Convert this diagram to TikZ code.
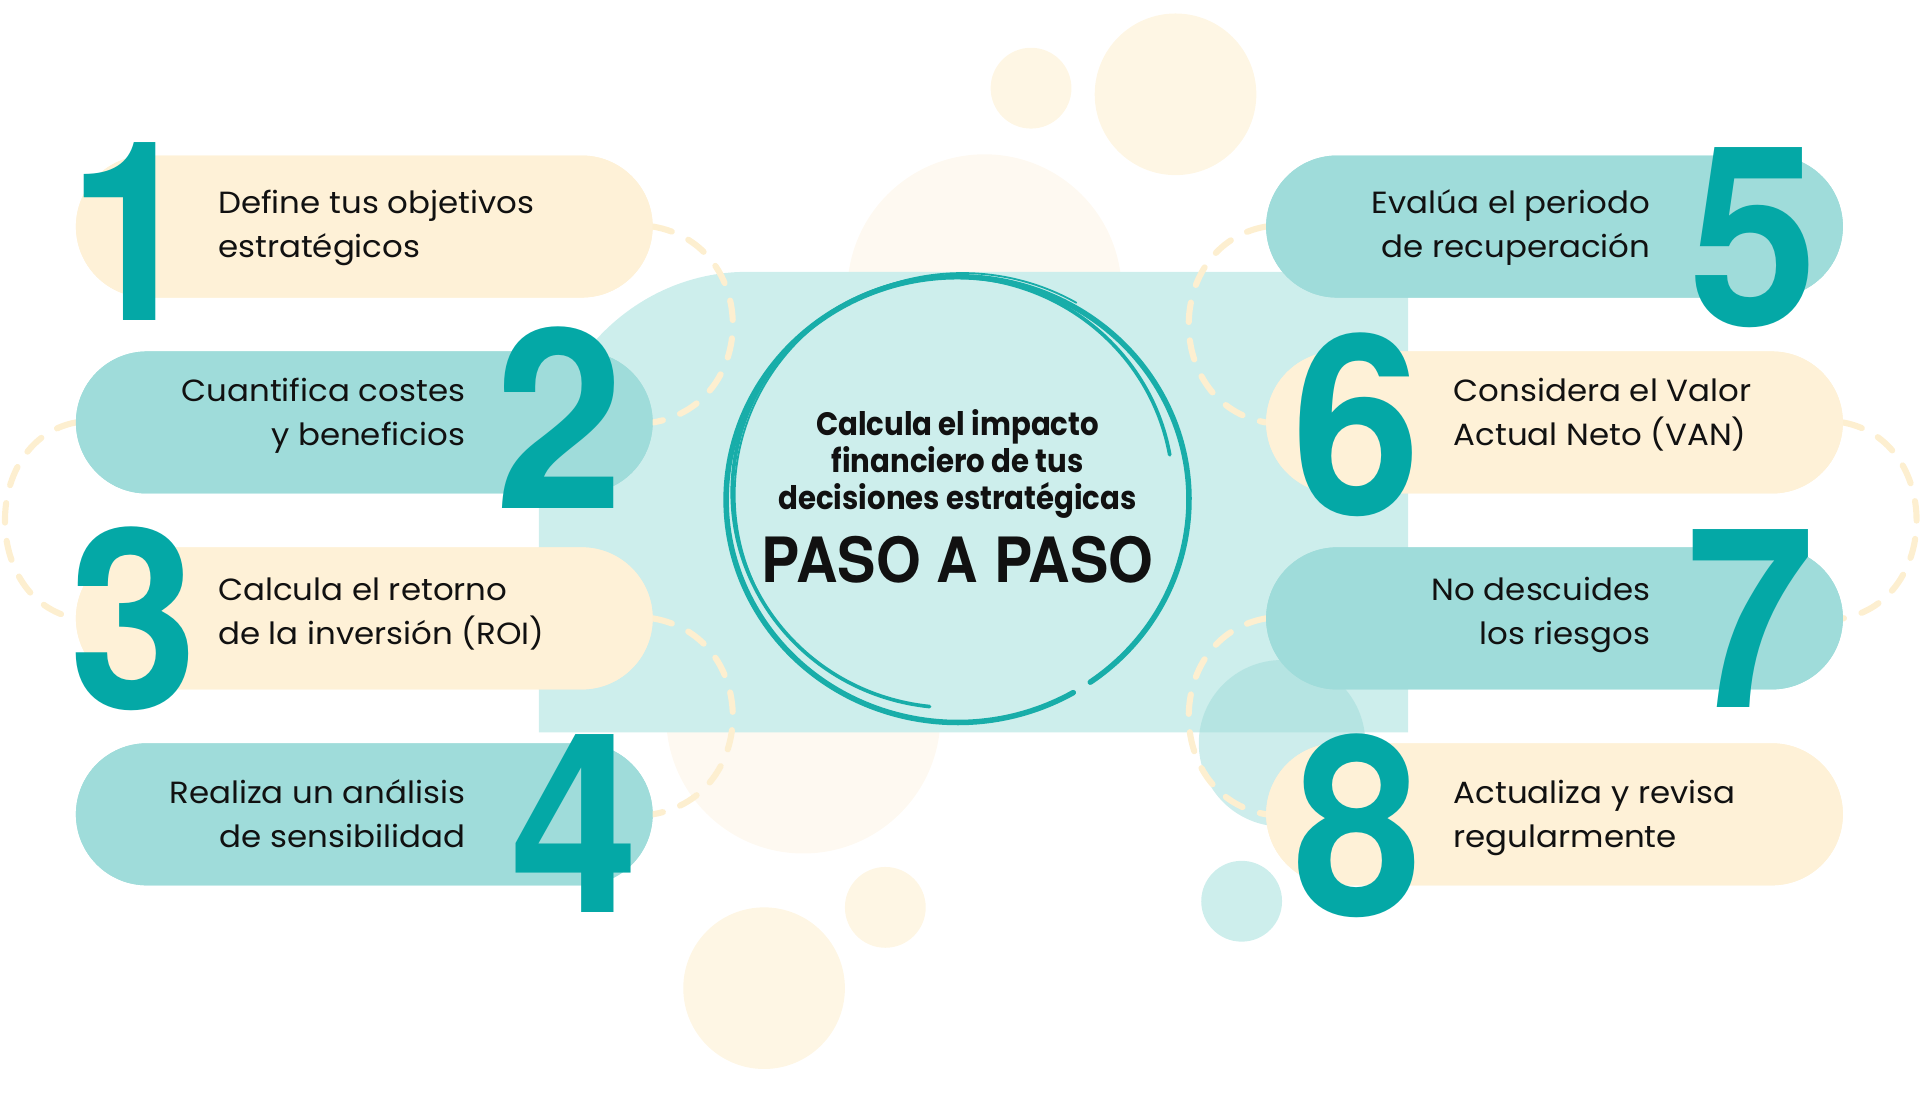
\documentclass[tikz,border=0pt]{standalone}
\usepackage{fontspec}
\setmainfont{Poppins}
\newfontfamily\numfont{TeX Gyre Heros}[FakeStretch=0.92]
\newfontfamily\pasofont{TeX Gyre Heros}[FakeStretch=0.92]
\newfontfamily\titlefont{Poppins}[FakeStretch=0.9]
\newfontfamily\stepfont{Poppins}[FakeStretch=1.06]
\definecolor{bgcream}{HTML}{FEF6E4}
\definecolor{bgpale}{HTML}{FEF9F1}
\definecolor{rectc}{HTML}{CDEEEC}
\definecolor{pillteal}{HTML}{9FDCDA}
\definecolor{pillcream}{HTML}{FEF1D7}
\definecolor{numteal}{HTML}{04A8A6}
\definecolor{dashc}{HTML}{FDEFD0}
\definecolor{scrib}{HTML}{18ADA9}
\definecolor{ink}{HTML}{111111}
\begin{document}
\begin{tikzpicture}[x=1pt,y=-1pt,
  pill/.style={rectangle, rounded corners=58pt, minimum width=471pt, minimum height=116pt, inner sep=0pt, draw=none},
  numlbl/.style={text=numteal, inner sep=0pt, anchor=base, font=\numfont\bfseries\fontsize{205}{205}\selectfont},
  steptxt/.style={text=ink, inner sep=0pt, font=\stepfont\fontsize{25}{30}\selectfont},
  titletxt/.style={text=ink, inner sep=0pt, anchor=base, font=\titlefont\bfseries\fontsize{26.5}{30}\selectfont},
  dashline/.style={draw=dashc, line width=5pt, line cap=round, dash pattern=on 16pt off 15pt},
  scribble/.style={draw=scrib, line cap=round}
]
\useasboundingbox (0,0) rectangle (1568,898);
% background circles
\fill[bgcream] (842,72) circle[radius=33];
\fill[bgcream] (960,77) circle[radius=66];
\fill[bgpale] (804,238) circle[radius=112];
\fill[bgpale] (656,585) circle[radius=112];
\fill[bgcream] (723,741) circle[radius=33];
\fill[bgcream] (624,807) circle[radius=66];
% central panel
\fill[rectc] (440,598) -- (440,400) .. controls (440,302) and (516,222) .. (610,222) -- (1150,222) -- (1150,598) -- cycle;
% teal circles
\fill[pillteal, opacity=0.52] (1047,607) circle[radius=68];
\fill[rectc] (1014,736) circle[radius=33];
% pills (named nodes)
\node[pill, fill=pillcream] (p1) at (297.5,185) {};
\node[pill, fill=pillteal]  (p2) at (297.5,345) {};
\node[pill, fill=pillcream] (p3) at (297.5,505) {};
\node[pill, fill=pillteal]  (p4) at (297.5,665) {};
\node[pill, fill=pillteal]  (p5) at (1269.5,185) {};
\node[pill, fill=pillcream] (p6) at (1269.5,345) {};
\node[pill, fill=pillteal]  (p7) at (1269.5,505) {};
\node[pill, fill=pillcream] (p8) at (1269.5,665) {};
% dashed connectors
\draw[dashline] (p1.east) .. controls +(87,15) and +(87,-15) .. (p2.east);
\draw[dashline] (p2.west) .. controls +(-77,15) and +(-77,-15) .. (p3.west);
\draw[dashline] (p3.east) .. controls +(87,15) and +(87,-15) .. (p4.east);
\draw[dashline] (p5.west) .. controls +(-84,15) and +(-84,-15) .. (p6.west);
\draw[dashline] (p6.east) .. controls +(80,15) and +(80,-15) .. (p7.east);
\draw[dashline] (p7.west) .. controls +(-84,15) and +(-84,-15) .. (p8.west);
% pills again over the dash ends
\fill[pillcream, rounded corners=58pt] (62,127) rectangle (533,243);
\fill[pillteal, rounded corners=58pt] (62,287) rectangle (533,403);
\fill[pillcream, rounded corners=58pt] (62,447) rectangle (533,563);
\fill[pillteal, rounded corners=58pt] (62,607) rectangle (533,723);
\fill[pillteal, rounded corners=58pt] (1034,127) rectangle (1505,243);
\fill[pillcream, rounded corners=58pt] (1034,287) rectangle (1505,403);
\fill[pillteal, rounded corners=58pt] (1034,447) rectangle (1505,563);
\fill[pillcream, rounded corners=58pt] (1034,607) rectangle (1505,723);
% numbers
\node[numlbl] (n1) at (108,262) {1};
\node[numlbl] (n2) at (457,415) {2};
\node[numlbl] (n3) at (109,579) {3};
\node[numlbl] (n4) at (469,745) {4};
\node[numlbl] (n5) at (1432,266) {5};
\node[numlbl] (n6) at (1108,420) {6};
\node[numlbl] (n7) at (1430,578) {7};
\node[numlbl] (n8) at (1109,748) {8};
% step texts
\node[steptxt, anchor=base west] (t1a) at (178,174) {Define tus objetivos};
\node[steptxt, anchor=base west] (t1b) at (178,210) {estratégicos};
\node[steptxt, anchor=base east] (t2a) at (380,328) {Cuantifica costes};
\node[steptxt, anchor=base east] (t2b) at (380,364) {y beneficios};
\node[steptxt, anchor=base west] (t3a) at (178,490) {Calcula el retorno};
\node[steptxt, anchor=base west] (t3b) at (178,526) {de la inversión (ROI)};
\node[steptxt, anchor=base east] (t4a) at (380,656) {Realiza un análisis};
\node[steptxt, anchor=base east] (t4b) at (380,692) {de sensibilidad};
\node[steptxt, anchor=base east] (t5a) at (1348,174) {Evalúa el periodo};
\node[steptxt, anchor=base east] (t5b) at (1348,210) {de recuperación};
\node[steptxt, anchor=base west] (t6a) at (1187,328) {Considera el Valor};
\node[steptxt, anchor=base west] (t6b) at (1187,364) {Actual Neto (VAN)};
\node[steptxt, anchor=base east] (t7a) at (1348,490) {No descuides};
\node[steptxt, anchor=base east] (t7b) at (1348,526) {los riesgos};
\node[steptxt, anchor=base west] (t8a) at (1187,656) {Actualiza y revisa};
\node[steptxt, anchor=base west] (t8b) at (1187,692) {regularmente};
% scribble circle
\draw[scribble, line width=4.5pt] (782,408) ++(60:189 and 182) arc[start angle=60, end angle=415, x radius=189, y radius=182];
\draw[scribble, line width=3pt] (778,402) ++(96:180 and 176) arc[start angle=96, end angle=350, x radius=180, y radius=176];
\draw[scribble, line width=1.5pt] (786,404) ++(150:186 and 181) arc[start angle=150, end angle=300, x radius=186, y radius=181];
% title
\node[titletxt] (h1) at (782,356) {Calcula el impacto};
\node[titletxt] (h2) at (782,386) {financiero de tus};
\node[titletxt] (h3) at (782,416) {decisiones estratégicas};
\node[text=ink, inner sep=0pt, anchor=base, font=\pasofont\bfseries\fontsize{51}{51}\selectfont] (h4) at (782,476) {PASO A PASO};
\end{tikzpicture}
\end{document}
